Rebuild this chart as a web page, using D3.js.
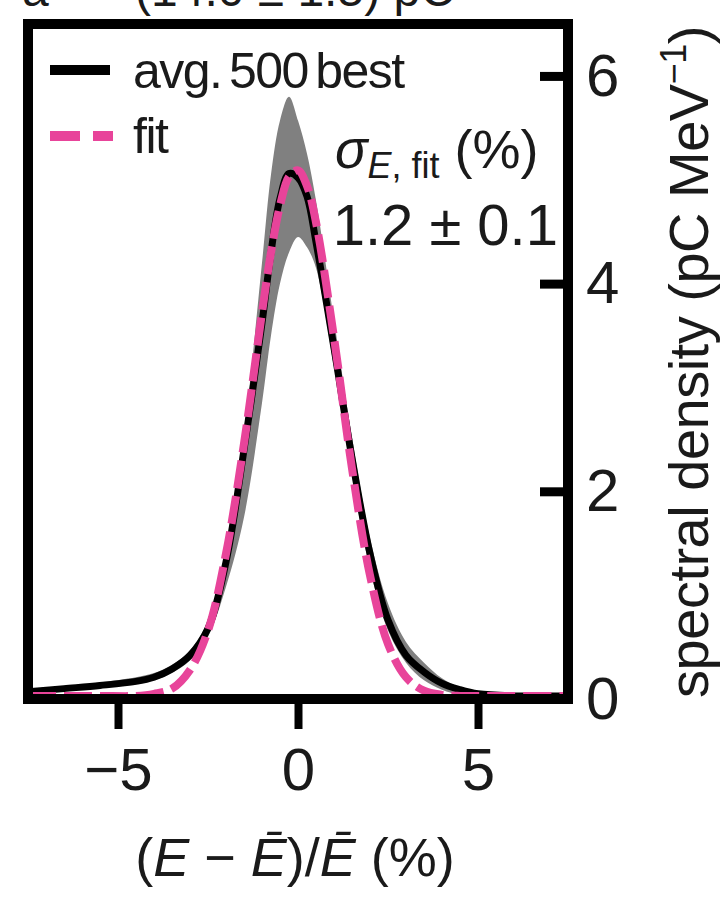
<!DOCTYPE html>
<html>
<head>
<meta charset="utf-8">
<script src="https://cdn.jsdelivr.net/npm/d3@7"></script>
<style>
  body { margin: 0; background: #fff; }
  svg { display: block; }
  text { font-family: "Liberation Sans", Arial, sans-serif; fill: #1a1a1a; }
</style>
</head>
<body>
<script>
// relative energy deviation (%) sample points
var energy = [-7.5, -6.5, -5.5, -4.5, -4, -3.5, -3, -2.5, -2, -1.5, -1, -0.75, -0.5, -0.25, 0, 0.25, 0.5, 1, 1.5, 2, 2.5, 3, 3.5, 4, 4.5, 5, 6, 7.5];
// average of 500 best shots (pC/MeV)
var avgBest = [0.07, 0.10, 0.13, 0.17, 0.21, 0.29, 0.42, 0.68, 1.32, 2.40, 3.62, 4.30, 4.82, 5.06, 5.02, 4.84, 4.40, 3.38, 2.32, 1.40, 0.76, 0.42, 0.26, 0.15, 0.09, 0.05, 0.03, 0.03];
// shot-to-shot spread (grey band)
var bandLow = [0.05, 0.08, 0.11, 0.15, 0.18, 0.25, 0.37, 0.60, 1.08, 1.75, 2.85, 3.50, 4.00, 4.30, 4.45, 4.35, 4.15, 3.20, 2.15, 1.25, 0.66, 0.35, 0.18, 0.09, 0.04, 0.02, 0.02, 0.02];
var bandHigh = [0.09, 0.12, 0.16, 0.21, 0.25, 0.33, 0.47, 0.75, 1.40, 2.55, 4.20, 5.05, 5.57, 5.80, 5.57, 5.25, 4.80, 3.65, 2.52, 1.55, 0.92, 0.55, 0.35, 0.20, 0.11, 0.06, 0.03, 0.03];
// gaussian fit
var fitCurve = [0.03, 0.03, 0.03, 0.03, 0.05, 0.10, 0.28, 0.66, 1.40, 2.46, 3.72, 4.30, 4.75, 5.03, 5.09, 4.94, 4.59, 3.48, 2.22, 1.19, 0.53, 0.21, 0.08, 0.04, 0.03, 0.03, 0.03, 0.03];

var xTicks = [-5, 0, 5];
var yTicks = [0, 2, 4, 6];
var legendLabels = ["avg. 500 best", "fit"];

var W = 723, H = 905;
var svg = d3.select("body").append("svg").attr("width", W).attr("height", H);

var x = d3.scaleLinear().domain([-7.5, 7.5]).range([28, 568]);
var y = d3.scaleLinear().domain([0, 6.5]).range([699, 24]);

var pts = energy.map(function(e, i){
  return {e: e, avg: avgBest[i], lo: bandLow[i], hi: bandHigh[i], fit: fitCurve[i]};
});

svg.append("clipPath").attr("id", "plotclip")
  .append("rect")
  .attr("x", x(-7.5)).attr("y", y(6.5))
  .attr("width", x(7.5) - x(-7.5)).attr("height", y(0) - y(6.5));

var plot = svg.append("g").attr("clip-path", "url(#plotclip)");
var curve = d3.curveCatmullRom.alpha(0.5);

plot.append("path")
  .datum(pts)
  .attr("fill", "#808080")
  .attr("d", d3.area().curve(curve)
    .x(function(d){ return x(d.e); })
    .y0(function(d){ return y(d.lo); })
    .y1(function(d){ return y(d.hi); }));

plot.append("path")
  .datum(pts)
  .attr("fill", "none")
  .attr("stroke", "#000")
  .attr("stroke-width", 7)
  .attr("d", d3.line().curve(curve)
    .x(function(d){ return x(d.e); })
    .y(function(d){ return y(d.avg); }));

plot.append("path")
  .datum(pts)
  .attr("fill", "none")
  .attr("stroke", "#e8449a")
  .attr("stroke-width", 8)
  .attr("stroke-dasharray", "28 8")
  .attr("d", d3.line().curve(curve)
    .x(function(d){ return x(d.e); })
    .y(function(d){ return y(d.fit); }));

// frame
svg.append("rect")
  .attr("x", x(-7.5)).attr("y", y(6.5))
  .attr("width", x(7.5) - x(-7.5)).attr("height", y(0) - y(6.5))
  .attr("fill", "none").attr("stroke", "#000").attr("stroke-width", 10);

// bottom axis
var xAxis = svg.append("g")
  .attr("transform", "translate(0," + y(0) + ")")
  .call(d3.axisBottom(x).tickValues(xTicks).tickSize(30).tickPadding(18)
    .tickFormat(function(d){ return d < 0 ? "\u2212" + Math.abs(d) : d; }));
xAxis.select(".domain").remove();
xAxis.selectAll("line").attr("stroke", "#000").attr("stroke-width", 8);
xAxis.selectAll("text").attr("font-size", 60).attr("font-family", "Liberation Sans, Arial, sans-serif").attr("fill", "#1a1a1a");

// right axis, ticks pointing inward
var yAxis = svg.append("g")
  .attr("transform", "translate(" + x(7.5) + ",0)")
  .call(d3.axisRight(y).tickValues(yTicks).tickSizeInner(-28).tickSizeOuter(0).tickPadding(18)
    .tickFormat(d3.format("d")));
yAxis.select(".domain").remove();
yAxis.selectAll("line").attr("stroke", "#000").attr("stroke-width", 9);
yAxis.selectAll("text").attr("font-size", 60).attr("font-family", "Liberation Sans, Arial, sans-serif").attr("fill", "#1a1a1a");

// axis titles
var xt = svg.append("text").attr("x", 295).attr("y", 876).attr("text-anchor", "middle").attr("font-size", 54);
xt.append("tspan").text("(");
xt.append("tspan").attr("font-style", "italic").text("E");
xt.append("tspan").text(" \u2212 ");
xt.append("tspan").attr("font-style", "italic").text("\u0112");
xt.append("tspan").text(")/");
xt.append("tspan").attr("font-style", "italic").text("\u0112");
xt.append("tspan").text(" (%)");

var yt = svg.append("text")
  .attr("transform", "translate(708,362) rotate(-90)")
  .attr("text-anchor", "middle").attr("font-size", 56)
  .attr("letter-spacing", -0.5);
yt.append("tspan").text("spectral density (pC MeV");
yt.append("tspan").attr("font-size", 36).attr("dy", -22).text("\u22121");
yt.append("tspan").attr("dy", 22).text(")");

// legend
var legend = svg.append("g");
legend.append("line").attr("x1", 50).attr("x2", 110).attr("y1", 70).attr("y2", 70)
  .attr("stroke", "#000").attr("stroke-width", 10);
legend.append("line").attr("x1", 50).attr("x2", 113).attr("y1", 136).attr("y2", 136)
  .attr("stroke", "#e8449a").attr("stroke-width", 10).attr("stroke-dasharray", "30 13");
legend.selectAll("text.lab").data(legendLabels).enter().append("text")
  .attr("class", "lab")
  .attr("x", 133)
  .attr("y", function(d, i){ return 88 + i * 65; })
  .attr("font-size", 50)
  .attr("letter-spacing", -1.5)
  .attr("word-spacing", -5)
  .text(function(d){ return d; });

// annotation
var sig = svg.append("text").attr("x", 335).attr("y", 168).attr("font-size", 54);
sig.append("tspan").attr("font-style", "italic").text("\u03c3");
sig.append("tspan").attr("font-size", 36).attr("dy", 10).attr("font-style", "italic").text("E");
sig.append("tspan").attr("font-size", 36).text(", fit");
sig.append("tspan").attr("dy", -10).text(" (%)");

svg.append("text").attr("x", 558).attr("y", 245).attr("text-anchor", "end")
  .attr("font-size", 58).text("1.2 \u00b1 0.1");

// clipped panel header at the very top
svg.append("text").attr("x", 22).attr("y", 6).attr("font-size", 48).text("a");
svg.append("text").attr("x", 135).attr("y", 6).attr("font-size", 48).text("(14.0 \u00b1 1.5) pC");
</script>
</body>
</html>
